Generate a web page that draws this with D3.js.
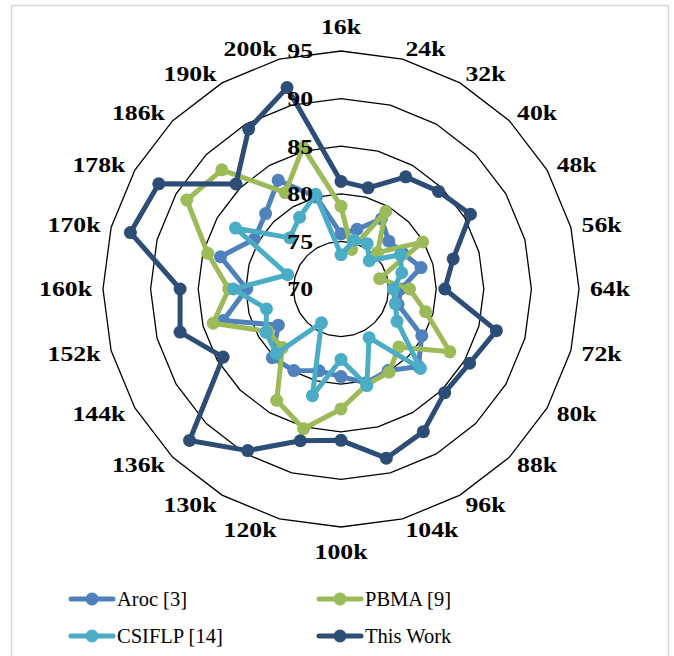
<!DOCTYPE html>
<html>
<head>
<meta charset="utf-8">
<script src="https://cdn.jsdelivr.net/npm/d3@7"></script>
<style>
  body { margin: 0; background: #fff; }
  svg { display: block; }
  text { font-family: "Liberation Serif", "Times New Roman", "DejaVu Serif", serif; }
</style>
</head>
<body>
<svg id="chart" width="674" height="656"></svg>
<script>
var categories = ["16k", "24k", "32k", "40k", "48k", "56k", "64k", "72k", "80k", "88k", "96k", "104k",
                  "100k", "120k", "130k", "136k", "144k", "152k", "160k", "170k", "178k", "186k", "190k", "200k"];

var aroc     = [75.8, 76.5, 78.5, 77.1, 77.5, 78.7, 76.3, 76.2, 79.8, 81.5, 79.9, 80.2,
                79.2, 78.9, 79.9, 80.2, 77.6, 82.8, 79.9, 83.1, 80.5, 81.2, 83.2, 80.0];
var pbma     = [78.7, 74.3, 79.4, 75.4, 79.9, 74.2, 77.2, 79.2, 83.2, 78.6, 80.1, 80.4,
                82.6, 85.2, 83.5, 78.7, 78.9, 83.9, 81.8, 84.5, 88.7, 87.7, 81.7, 85.4];
var csiflp   = [73.6, 75.3, 75.5, 74.2, 77.2, 76.6, 75.5, 75.9, 76.8, 81.8, 75.9, 80.5,
                77.4, 81.6, 74.1, 79.6, 79.1, 78.1, 81.3, 75.8, 82.8, 77.6, 78.7, 80.3];
var thisWork = [81.3, 81.0, 83.6, 84.5, 85.7, 82.2, 80.9, 86.9, 85.6, 85.4, 87.3, 88.4,
                85.9, 86.5, 89.6, 92.5, 84.3, 87.5, 86.9, 92.9, 92.1, 85.6, 89.4, 91.9];

var ticks = [70, 75, 80, 85, 90, 95];
var seriesNames = ["Aroc [3]", "PBMA [9]", "CSIFLP [14]", "This Work"];
var colors = ["#4F81BD", "#9BBB59", "#4BACC6", "#2C4D75"];

var cx = 341, cy = 289;
var svg = d3.select("#chart");

// chart area border
svg.append("rect")
    .attr("x", 11.5).attr("y", 5.5)
    .attr("width", 657).attr("height", 670)
    .attr("fill", "#fff")
    .attr("stroke", "#d9d9d9")
    .attr("stroke-width", 1.5);

var r = d3.scaleLinear().domain([70, 95]).range([0, 238]);
var angle = d3.scaleLinear().domain([0, categories.length]).range([0, 2 * Math.PI]);

var g = svg.append("g").attr("transform", "translate(" + cx + "," + cy + ")");

var radial = d3.lineRadial()
    .angle(function(d, i) { return angle(i); })
    .radius(function(d) { return r(d); })
    .curve(d3.curveLinearClosed);

// gridlines (24-sided polygons)
g.append("g").selectAll("path")
    .data(ticks.slice(1))
    .enter().append("path")
    .attr("d", function(t) { return radial(categories.map(function() { return t; })); })
    .attr("fill", "none")
    .attr("stroke", "#000")
    .attr("stroke-width", 1.3);

// series
var series = [aroc, pbma, csiflp, thisWork];
series.forEach(function(vals, k) {
  var sg = g.append("g");
  sg.append("path")
      .attr("d", radial(vals))
      .attr("fill", "none")
      .attr("stroke", colors[k])
      .attr("stroke-width", 5)
      .attr("stroke-linejoin", "round");
  sg.selectAll("circle")
      .data(vals)
      .enter().append("circle")
      .attr("cx", function(d, i) { return r(d) * Math.sin(angle(i)); })
      .attr("cy", function(d, i) { return -r(d) * Math.cos(angle(i)); })
      .attr("r", 6.5)
      .attr("fill", colors[k]);
});

// value labels along the 16k axis
g.append("g").selectAll("text")
    .data(ticks)
    .enter().append("text")
    .attr("transform", function(t) { return "translate(-28," + (-r(t) + 7.3) + ") scale(1.17,1)"; })
    .attr("text-anchor", "end")
    .attr("font-weight", "bold")
    .attr("font-size", 22)
    .attr("fill", "#000")
    .text(function(t) { return t; });

// category labels
var R = 249;
g.append("g").selectAll("text")
    .data(categories)
    .enter().append("text")
    .attr("transform", function(d, i) {
      var a = angle(i), s = Math.sin(a), c = Math.cos(a);
      var x = R * s, y = -R * c;
      if (Math.abs(s) < 0.01) y += c > 0 ? -6.5 : 21;
      else y += 7.3;
      return "translate(" + x + "," + y + ") scale(1.17,1)";
    })
    .attr("text-anchor", function(d, i) {
      var s = Math.sin(angle(i));
      return Math.abs(s) < 0.01 ? "middle" : (s > 0 ? "start" : "end");
    })
    .attr("font-weight", "bold")
    .attr("font-size", 22)
    .attr("fill", "#000")
    .text(function(d) { return d; });

// legend
var legendPos = [[71, 599], [319, 599], [71, 636], [319, 636]];
var legend = svg.append("g").selectAll("g")
    .data(seriesNames)
    .enter().append("g")
    .attr("transform", function(d, i) { return "translate(" + legendPos[i][0] + "," + legendPos[i][1] + ")"; });

legend.append("line")
    .attr("x1", 0).attr("x2", 42)
    .attr("y1", 0).attr("y2", 0)
    .attr("stroke", function(d, i) { return colors[i]; })
    .attr("stroke-width", 5)
    .attr("stroke-linecap", "round");

legend.append("circle")
    .attr("cx", 21).attr("cy", 0).attr("r", 6.5)
    .attr("fill", function(d, i) { return colors[i]; });

legend.append("text")
    .attr("x", 46)
    .attr("y", 7.3)
    .attr("font-size", 20.5)
    .attr("fill", "#000")
    .text(function(d) { return d; });
</script>
</body>
</html>
